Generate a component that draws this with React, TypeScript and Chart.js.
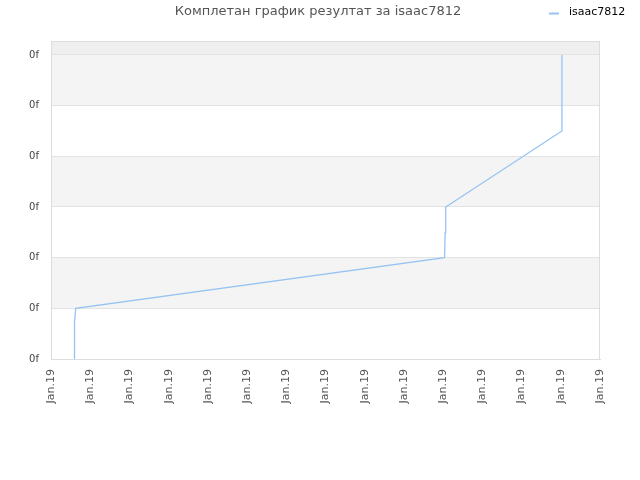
import React, { useEffect, useRef } from "react";
import Chart from "chart.js/auto";

const titleText = "Комплетан график резултат за isaac7812";
const seriesName = "isaac7812";

// x in tick units (0..14), y in grid rows (0..6)
const xValues = [0.6, 0.6, 0.63, 10.035, 10.05, 10.065, 13.03, 13.03];
const yValues = [0, 0.73, 1.0, 2.0, 2.49, 3.0, 4.5, 6.0];
const xTickLabel = "Jan.19";
const yTickLabel = "0f";
const xTickCount = 14;
const yTickCount = 6;
const yTop = 6.276;

const lineColor = "#95c3f2";

const decorPlugin = {
  id: "decor",
  beforeDraw(chart: any) {
    const { ctx, chartArea: a, scales } = chart;
    const y = scales.y;
    ctx.save();
    ctx.fillStyle = "#efefef";
    ctx.fillRect(a.left, a.top, a.right - a.left, y.getPixelForValue(yTickCount) - a.top);
    ctx.fillStyle = "#f4f4f4";
    for (let i = 1; i < yTickCount; i += 2) {
      const top = y.getPixelForValue(i + 1);
      const bottom = y.getPixelForValue(i);
      ctx.fillRect(a.left, top, a.right - a.left, bottom - top);
    }
    ctx.restore();
  },
  beforeDatasetsDraw(chart: any) {
    const { ctx, chartArea: a } = chart;
    ctx.save();
    ctx.strokeStyle = "#dddddd";
    ctx.lineWidth = 1;
    ctx.strokeRect(a.left + 0.5, a.top + 0.5, a.right - a.left - 1, a.bottom - a.top);
    ctx.restore();
  },
  afterDraw(chart: any) {
    const { ctx } = chart;
    ctx.save();
    ctx.font = "13px 'DejaVu Sans'";
    ctx.fillStyle = "#555555";
    ctx.textAlign = "center";
    ctx.textBaseline = "middle";
    ctx.fillText(titleText, 318, 12);

    ctx.strokeStyle = lineColor;
    ctx.lineWidth = 2;
    ctx.beginPath();
    ctx.moveTo(549, 13.5);
    ctx.lineTo(559, 13.5);
    ctx.stroke();

    ctx.font = "11px 'DejaVu Sans'";
    ctx.fillStyle = "#000000";
    ctx.textAlign = "left";
    ctx.fillText(seriesName, 569, 12);
    ctx.restore();
  },
};

const App: React.FC = () => {
  const canvas = useRef<HTMLCanvasElement>(null);

  useEffect(() => {
    Chart.defaults.font.family = "'DejaVu Sans', sans-serif";
    const points = xValues.map((x, i) => ({ x, y: yValues[i] }));
    const chart = new Chart(canvas.current!.getContext("2d")!, {
      type: "line",
      data: {
        datasets: [
          {
            label: seriesName,
            data: points,
            borderColor: lineColor,
            backgroundColor: lineColor,
            borderWidth: 1.3,
            pointRadius: 0,
            tension: 0,
            fill: false,
          },
        ],
      },
      options: {
        responsive: true,
        maintainAspectRatio: false,
        animation: false,
        layout: {
          padding: { top: 41, right: 40, left: 0, bottom: 0 },
        },
        scales: {
          x: {
            type: "linear",
            min: 0,
            max: xTickCount,
            afterFit: (scale: any) => {
              scale.height = 121;
            },
            ticks: {
              stepSize: 1,
              autoSkip: false,
              maxRotation: 90,
              minRotation: 90,
              padding: 10,
              color: "#555555",
              font: { size: 11 },
              callback: () => xTickLabel,
            },
            grid: { display: false, drawTicks: false },
            border: { display: true, color: "#dddddd" },
          },
          y: {
            min: 0,
            max: yTop,
            afterFit: (scale: any) => {
              scale.width = 51;
            },
            ticks: {
              stepSize: 1,
              includeBounds: false,
              padding: 12,
              color: "#444444",
              font: { size: 10 },
              callback: () => yTickLabel,
            },
            grid: { color: "#e3e3e3", drawTicks: false },
            border: { display: true, color: "#dddddd" },
          },
        },
        plugins: {
          legend: { display: false },
          title: { display: false },
          tooltip: { enabled: false },
        },
      },
      plugins: [decorPlugin],
    });

    return () => {
      chart.destroy();
    };
  }, []);

  return (
    <div style={{ position: "absolute", left: 0, top: 0, width: 640, height: 480 }}>
      <canvas ref={canvas}></canvas>
    </div>
  );
};

export default App;
